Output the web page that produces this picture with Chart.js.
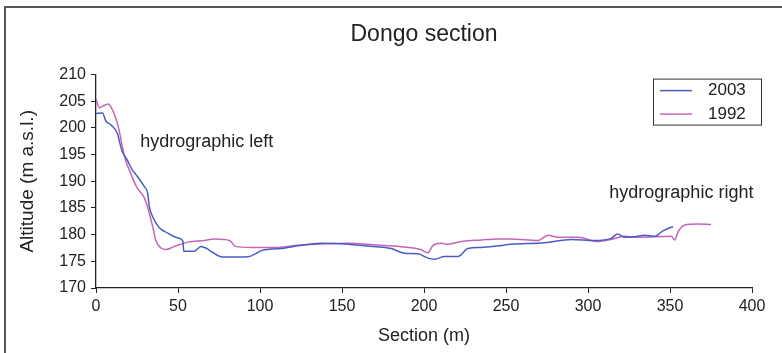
<!DOCTYPE html>
<html>
<head>
<meta charset="utf-8">
<script src="https://cdn.jsdelivr.net/npm/chart.js@4/dist/chart.umd.min.js"></script>
<style>
    html, body { margin: 0; padding: 0; background: #fff; }
    #wrap { width: 782px; height: 353px; position: relative; }
</style>
</head>
<body>
<div id="wrap"><canvas id="dongoChart"></canvas></div>
<script>
// Профиль 2003
const sec2003 = [0, 4, 6, 9, 13, 15, 16, 19, 22, 25, 29.5, 31.5, 32.5, 34.5, 38.6, 43.7, 49.8, 53, 53.5, 60, 64, 67, 71, 77, 86, 93.5, 97.7, 100.8, 107, 113, 123, 137.4, 153.7, 163.8, 180, 188, 196.3, 202.4, 206.5, 212.6, 220.7, 226.8, 235, 245, 253, 273.6, 289.8, 304, 314, 318, 322.4, 328.5, 334.6, 340.7, 345.7, 349.8, 352];
const alt2003 = [202.7, 202.8, 201.3, 200.6, 199, 196.6, 195.6, 194, 192.2, 191, 189, 187.8, 185.3, 183.4, 181.3, 180.3, 179.4, 178.8, 176.9, 176.9, 177.8, 177.5, 176.7, 175.8, 175.8, 175.9, 176.5, 177, 177.3, 177.4, 177.9, 178.4, 178.2, 177.9, 177.4, 176.5, 176.4, 175.6, 175.4, 175.9, 175.9, 177.4, 177.6, 177.9, 178.2, 178.5, 179.1, 178.9, 179.3, 180.1, 179.5, 179.6, 179.9, 179.7, 180.7, 181.3, 181.5];

// Профиль 1992
const sec1992 = [0, 2, 5, 7.5, 9, 12, 14, 16, 18, 21, 25, 29.5, 32.5, 34.5, 36.6, 39.6, 42.7, 47.8, 56, 66, 72, 78, 82, 85, 94.5, 111, 123, 153.7, 174, 188, 198, 202.4, 205.5, 210.5, 214.6, 222.7, 235, 245, 253, 269.5, 275.6, 281.7, 294, 306, 314, 322.4, 330.5, 350.8, 352.8, 354.9, 359, 367, 375];
const alt1992 = [205.4, 203.8, 204.2, 204.5, 204, 201.9, 199.7, 196.6, 194, 191.6, 188.8, 186.9, 184, 181.6, 178.8, 177.5, 177.2, 177.8, 178.6, 178.9, 179.2, 179.1, 178.8, 177.8, 177.6, 177.6, 178, 178.4, 178, 177.7, 177.2, 176.6, 178, 178.4, 178.2, 178.7, 179, 179.2, 179.2, 178.9, 179.9, 179.5, 179.5, 178.7, 179.1, 179.7, 179.5, 179.7, 179, 180.5, 181.8, 182, 181.9];

// Подписи
const notes = [
    { text: 'hydrographic left', x: 27, y: 197.4 },
    { text: 'hydrographic right', x: 313, y: 187.8 }
];

const FONT = "'Liberation Sans', Arial, sans-serif";
const TEXT = '#222';

const toPoints = (xs, ys) => xs.map((x, i) => ({ x: x, y: ys[i] }));

// рамка, легенда и подписи
const decorPlugin = {
    id: 'decor',
    beforeDraw(chart) {
        const ctx = chart.ctx;
        ctx.save();
        ctx.fillStyle = '#fff';
        ctx.fillRect(0, 0, chart.width, chart.height);
        ctx.strokeStyle = '#555';
        ctx.lineWidth = 2;
        ctx.beginPath();
        ctx.moveTo(5, chart.height);
        ctx.lineTo(5, 7);
        ctx.lineTo(chart.width, 7);
        ctx.stroke();
        ctx.restore();
    },
    afterDraw(chart) {
        const ctx = chart.ctx;
        const area = chart.chartArea;
        const xs = chart.scales.x;
        const ys = chart.scales.y;
        ctx.save();

        ctx.font = '18px ' + FONT;
        ctx.fillStyle = TEXT;
        ctx.textBaseline = 'middle';
        ctx.textAlign = 'left';
        notes.forEach(n => {
            ctx.fillText(n.text, xs.getPixelForValue(n.x), ys.getPixelForValue(n.y));
        });

        // legend box
        const bx = area.right - 99, by = area.top + 4, bw = 108, bh = 46;
        ctx.strokeStyle = '#333';
        ctx.lineWidth = 1;
        ctx.strokeRect(bx + 0.5, by + 0.5, bw, bh);
        ctx.font = '17px ' + FONT;
        chart.data.datasets.forEach((ds, i) => {
            const ly = by + 12 + i * 23.5;
            ctx.strokeStyle = ds.borderColor;
            ctx.lineWidth = 1.5;
            ctx.beginPath();
            ctx.moveTo(bx + 7, ly);
            ctx.lineTo(bx + 39, ly);
            ctx.stroke();
            ctx.fillStyle = TEXT;
            ctx.fillText(ds.label, bx + 55, ly);
        });
        ctx.restore();
    }
};

const ctx = document.getElementById('dongoChart').getContext('2d');
const dongoChart = new Chart(ctx, {
    type: 'line',
    data: {
        datasets: [
            {
                label: '2003',
                data: toPoints(sec2003, alt2003),
                borderColor: '#4a5cc2',
                borderWidth: 1.5,
                pointRadius: 0,
                cubicInterpolationMode: 'monotone'
            },
            {
                label: '1992',
                data: toPoints(sec1992, alt1992),
                borderColor: '#c466b8',
                borderWidth: 1.5,
                pointRadius: 0,
                cubicInterpolationMode: 'monotone'
            }
        ]
    },
    options: {
        responsive: true,
        maintainAspectRatio: false,
        animation: false,
        layout: {
            padding: { left: 0, right: 30, top: 0, bottom: 0 }
        },
        plugins: {
            legend: { display: false },
            tooltip: { enabled: false },
            title: {
                display: true,
                fullSize: false,
                text: 'Dongo section',
                color: TEXT,
                font: { family: FONT, size: 23, weight: 'normal' },
                padding: { top: 21, bottom: 26 }
            }
        },
        scales: {
            x: {
                type: 'linear',
                min: 0,
                max: 400,
                ticks: {
                    stepSize: 50,
                    color: TEXT,
                    padding: 4,
                    maxRotation: 0,
                    font: { family: FONT, size: 16 }
                },
                grid: {
                    drawOnChartArea: false,
                    tickLength: 5,
                    color: '#222'
                },
                border: { color: '#222', width: 1.3 },
                title: {
                    display: true,
                    text: 'Section (m)',
                    color: TEXT,
                    font: { family: FONT, size: 18 },
                    padding: { top: 4, bottom: 6 }
                },
                afterFit(scale) {
                    scale.height = 65;
                }
            },
            y: {
                min: 170,
                max: 210,
                ticks: {
                    stepSize: 5,
                    color: TEXT,
                    padding: 5,
                    font: { family: FONT, size: 16 }
                },
                grid: {
                    drawOnChartArea: false,
                    tickLength: 5,
                    color: '#222'
                },
                border: { color: '#222', width: 1.3 },
                title: {
                    display: true,
                    text: 'Altitude (m a.s.l.)',
                    color: TEXT,
                    font: { family: FONT, size: 19 },
                    padding: { top: 16, bottom: 10 }
                },
                afterFit(scale) {
                    scale.width = 96;
                }
            }
        }
    },
    plugins: [decorPlugin]
});
</script>
</body>
</html>
